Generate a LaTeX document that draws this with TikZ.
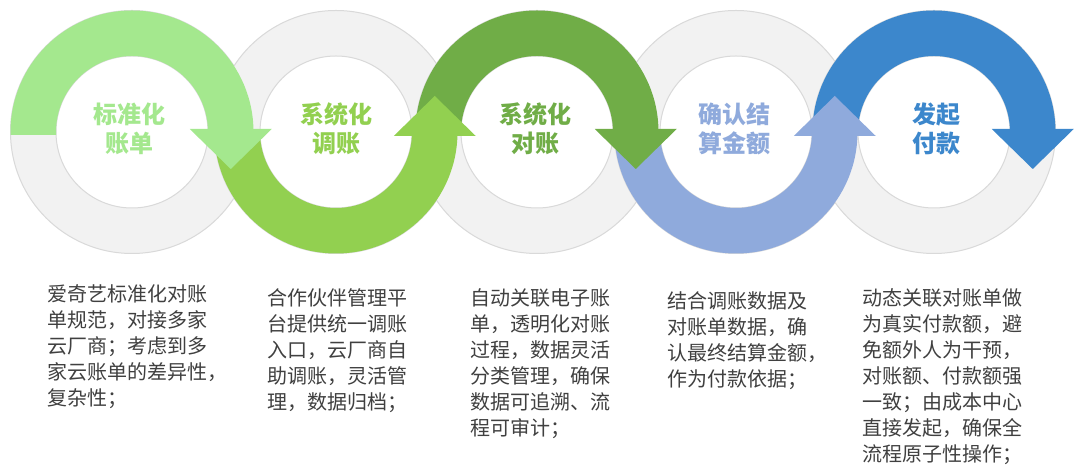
\documentclass[tikz,border=0pt]{standalone}
\usepackage{fontspec}
\newfontfamily\cjk{Noto Sans CJK SC}
\usepackage{tikz}
\usetikzlibrary{calc}
\definecolor{ringgray}{RGB}{242,242,242}
\definecolor{ringedge}{RGB}{217,217,217}
\definecolor{stepA}{RGB}{164,232,142}
\definecolor{stepB}{RGB}{146,208,80}
\definecolor{stepC}{RGB}{112,173,71}
\definecolor{stepD}{RGB}{143,170,220}
\definecolor{stepE}{RGB}{60,135,204}
\definecolor{bodygray}{RGB}{64,64,64}
\tikzset{
  ringbg/.style={fill=ringgray, draw=ringedge, line width=1pt, even odd rule},
  title/.style={font=\cjk\bfseries\fontsize{24}{29}\selectfont, align=center, inner sep=0pt},
  desc/.style={font=\cjk\fontsize{20}{26}\selectfont, align=left, anchor=north west, inner sep=0pt, text=bodygray},
}

\begin{document}
\begin{tikzpicture}[x=1pt, y=1pt]
  \useasboundingbox (0,0) rectangle (1080,476);
  \fill[white] (0,0) rectangle (1080,476);
  % ring centres
  \coordinate (c1) at (132,344);
  \coordinate (c2) at (336,344);
  \coordinate (c3) at (537,344);
  \coordinate (c4) at (736,344);
  \coordinate (c5) at (934,344);
  % grey rings
  \path[ringbg] (c1) circle[radius=121.5pt] (c1) circle[radius=76pt];
  \path[ringbg] (c2) circle[radius=121.5pt] (c2) circle[radius=76pt];
  \path[ringbg] (c3) circle[radius=121.5pt] (c3) circle[radius=76pt];
  \path[ringbg] (c4) circle[radius=121.5pt] (c4) circle[radius=76pt];
  \path[ringbg] (c5) circle[radius=121.5pt] (c5) circle[radius=76pt];
  % coloured half bands
  \fill[stepA] ($(c1)+(-121.5,-3)$) -- ++(0,3) arc[start angle=180, end angle=0, radius=121.5pt] -- ++(-45.5,0) arc[start angle=0, end angle=180, radius=76pt] -- ++(0,-3) -- cycle;
  \fill[stepB] ($(c2)+(-121.5,0)$) arc[start angle=180, end angle=360, radius=121.5pt] -- ++(-45.5,0) arc[start angle=360, end angle=180, radius=76pt] -- cycle;
  \fill[stepC] ($(c3)+(-121.5,0)$) arc[start angle=180, end angle=0, radius=121.5pt] -- ++(-45.5,0) arc[start angle=0, end angle=180, radius=76pt] -- cycle;
  \fill[stepD] ($(c4)+(-121.5,0)$) arc[start angle=180, end angle=360, radius=121.5pt] -- ++(-45.5,0) arc[start angle=360, end angle=180, radius=76pt] -- cycle;
  \fill[stepE] ($(c5)+(-121.5,0)$) arc[start angle=180, end angle=0, radius=121.5pt] -- ++(-45.5,0) arc[start angle=0, end angle=180, radius=76pt] -- cycle;
  % arrow heads
  \fill[stepA] ($(c1)+(57.75,3)$) -- ($(c1)+(139.75,3)$) -- ($(c1)+(98.75,-37)$) -- cycle;
  \fill[stepB] ($(c2)+(57.75,-4)$) -- ($(c2)+(139.75,-4)$) -- ($(c2)+(98.75,36)$) -- cycle;
  \fill[stepC] ($(c3)+(57.75,3)$) -- ($(c3)+(139.75,3)$) -- ($(c3)+(98.75,-37)$) -- cycle;
  \fill[stepD] ($(c4)+(57.75,-4)$) -- ($(c4)+(139.75,-4)$) -- ($(c4)+(98.75,36)$) -- cycle;
  \fill[stepE] ($(c5)+(57.75,3)$) -- ($(c5)+(139.75,3)$) -- ($(c5)+(98.75,-37)$) -- cycle;
  % step titles
  \node[title, text=stepA] (t1) at ($(c1)+(-3,3)$) {标准化\\账单};
  \node[title, text=stepB] (t2) at ($(c2)+(0,3)$) {系统化\\调账};
  \node[title, text=stepC] (t3) at ($(c3)+(-2,3)$) {系统化\\对账};
  \node[title, text=stepD] (t4) at ($(c4)+(-2,3)$) {确认结\\算金额};
  \node[title, text=stepE] (t5) at ($(c5)+(2,3)$) {发起\\付款};
  % descriptions
  \node[desc] (d1) at (47,192) {爱奇艺标准化对账\\单规范，对接多家\\云厂商；考虑到多\\家云账单的差异性，\\复杂性；};
  \node[desc] (d2) at (267,188) {合作伙伴管理平\\台提供统一调账\\入口，云厂商自\\助调账，灵活管\\理，数据归档；};
  \node[desc] (d3) at (470,188) {自动关联电子账\\单，透明化对账\\过程，数据灵活\\分类管理，确保\\数据可追溯、流\\程可审计；};
  \node[desc] (d4) at (667,185) {结合调账数据及\\对账单数据，确\\认最终结算金额，\\作为付款依据；};
  \node[desc] (d5) at (862,188) {动态关联对账单做\\为真实付款额，避\\免额外人为干预，\\对账额、付款额强\\一致；由成本中心\\直接发起，确保全\\流程原子性操作；};
\end{tikzpicture}
\end{document}
